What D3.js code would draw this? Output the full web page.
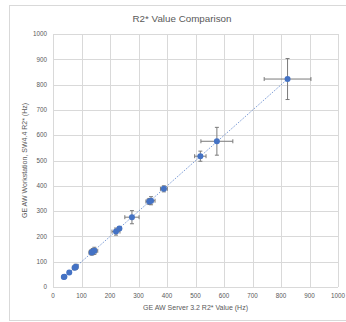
<!DOCTYPE html>
<html>
<head>
<meta charset="utf-8">
<script src="https://cdn.jsdelivr.net/npm/d3@7"></script>
<style>
  body { margin: 0; background: #fff; }
  text { font-family: "Liberation Sans", Arial, sans-serif; fill: #595959; }
</style>
</head>
<body>
<script>
// values
const serverR2 = [38, 40, 57, 76, 80, 136, 140, 145, 221, 233, 277, 338, 344, 389, 517, 575, 823];
const workstationR2 = [40, 41, 57, 76, 80, 136, 140, 143, 219, 231, 276, 338, 341, 388, 517, 576, 822];
const serverErr = [3, 3, 3, 8, 8, 10, 12, 12, 14, 5, 25, 12, 14, 12, 20, 56, 82];
const workstationErr = [3, 3, 3, 8, 10, 10, 12, 14, 14, 5, 26, 12, 16, 12, 20, 55, 81];
const ticks = [0, 100, 200, 300, 400, 500, 600, 700, 800, 900, 1000];

const width = 346, height = 322;
const margin = { left: 53, right: 8, top: 34, bottom: 35 };

const svg = d3.select("body").append("svg")
  .attr("width", width)
  .attr("height", height);

// chart frame
svg.append("rect")
  .attr("x", 9.5).attr("y", 5.5)
  .attr("width", 360).attr("height", 315)
  .attr("fill", "#fff")
  .attr("stroke", "#d9d9d9");

const x = d3.scaleLinear().domain([0, 1000]).range([margin.left, width - margin.right]);
const y = d3.scaleLinear().domain([0, 1000]).range([height - margin.bottom, margin.top]);

// gridlines
svg.append("g").selectAll("line").data(ticks).join("line")
  .attr("x1", x(0)).attr("x2", x(1000))
  .attr("y1", (d) => Math.round(y(d)) + 0.5).attr("y2", (d) => Math.round(y(d)) + 0.5)
  .attr("stroke", "#d9d9d9");
svg.append("g").selectAll("line").data(ticks).join("line")
  .attr("y1", y(0)).attr("y2", y(1000))
  .attr("x1", (d) => Math.round(x(d)) + 0.5).attr("x2", (d) => Math.round(x(d)) + 0.5)
  .attr("stroke", "#d9d9d9");

// tick labels
svg.append("g").selectAll("text").data(ticks).join("text")
  .attr("x", x(0) - 6)
  .attr("y", (d) => y(d))
  .attr("dy", "0.35em")
  .attr("text-anchor", "end")
  .attr("font-size", 6.3)
  .text((d) => d);
svg.append("g").selectAll("text").data(ticks).join("text")
  .attr("x", (d) => x(d))
  .attr("y", y(0) + 11)
  .attr("text-anchor", "middle")
  .attr("font-size", 6.3)
  .text((d) => d);

// titles
svg.append("text")
  .attr("x", 182).attr("y", 22)
  .attr("text-anchor", "middle")
  .attr("font-size", 9.8)
  .text("R2* Value Comparison");
svg.append("text")
  .attr("x", (x(0) + x(1000)) / 2).attr("y", 310)
  .attr("text-anchor", "middle")
  .attr("font-size", 7)
  .text("GE AW Server 3.2 R2* Value (Hz)");
svg.append("text")
  .attr("transform", `translate(27,${(y(0) + y(1000)) / 2}) rotate(-90)`)
  .attr("text-anchor", "middle")
  .attr("font-size", 7)
  .text("GE AW Workstation, SW4.4 R2* (Hz)");

// linear trendline
const mx = d3.mean(serverR2), my = d3.mean(workstationR2);
const slope = d3.sum(serverR2, (v, i) => (v - mx) * (workstationR2[i] - my)) /
  d3.sum(serverR2, (v) => (v - mx) ** 2);
const icpt = my - slope * mx;
const xMin = d3.min(serverR2), xMax = d3.max(serverR2);
svg.append("line")
  .attr("x1", x(xMin)).attr("y1", y(slope * xMin + icpt))
  .attr("x2", x(xMax)).attr("y2", y(slope * xMax + icpt))
  .attr("stroke", "#4472c4")
  .attr("stroke-width", 0.9)
  .attr("stroke-dasharray", "1,1.4");

// error bars
const pts = serverR2.map((v, i) => ({ x: v, y: workstationR2[i], ex: serverErr[i], ey: workstationErr[i] }));
const eb = svg.append("g").attr("stroke", "#7a7a7a").attr("stroke-width", 1);
const cap = 2;
pts.forEach((d) => {
  const cx = x(d.x), cy = y(d.y);
  eb.append("line").attr("x1", x(d.x - d.ex)).attr("x2", x(d.x + d.ex)).attr("y1", cy).attr("y2", cy);
  eb.append("line").attr("x1", x(d.x - d.ex)).attr("x2", x(d.x - d.ex)).attr("y1", cy - cap).attr("y2", cy + cap);
  eb.append("line").attr("x1", x(d.x + d.ex)).attr("x2", x(d.x + d.ex)).attr("y1", cy - cap).attr("y2", cy + cap);
  eb.append("line").attr("x1", cx).attr("x2", cx).attr("y1", y(d.y - d.ey)).attr("y2", y(d.y + d.ey));
  eb.append("line").attr("x1", cx - cap).attr("x2", cx + cap).attr("y1", y(d.y - d.ey)).attr("y2", y(d.y - d.ey));
  eb.append("line").attr("x1", cx - cap).attr("x2", cx + cap).attr("y1", y(d.y + d.ey)).attr("y2", y(d.y + d.ey));
});

// markers
svg.append("g").selectAll("circle").data(pts).join("circle")
  .attr("cx", (d) => x(d.x))
  .attr("cy", (d) => y(d.y))
  .attr("r", 3)
  .attr("fill", "#4472c4");
</script>
</body>
</html>
